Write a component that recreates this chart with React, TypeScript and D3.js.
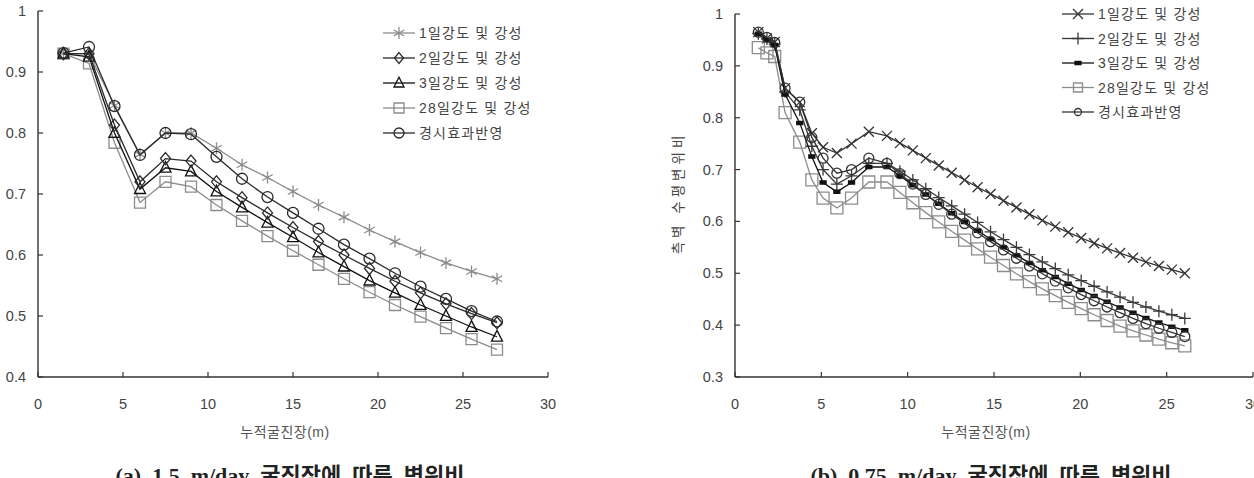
import React from "react";
import * as d3 from "d3";

// ---- chart (a) 1.5 m/day ----
const xA = [1.5, 3, 4.5, 6, 7.5, 9, 10.5, 12, 13.5, 15, 16.5, 18, 19.5, 21, 22.5, 24, 25.5, 27];
const a1 = [0.93, 0.93, 0.845, 0.765, 0.8, 0.8, 0.775, 0.748, 0.727, 0.704, 0.682, 0.662, 0.641, 0.622, 0.604, 0.587, 0.573, 0.561];
const a2 = [0.93, 0.93, 0.813, 0.72, 0.758, 0.754, 0.72, 0.694, 0.669, 0.645, 0.622, 0.6, 0.578, 0.557, 0.538, 0.52, 0.504, 0.489];
const a3 = [0.93, 0.925, 0.8, 0.708, 0.743, 0.737, 0.704, 0.678, 0.653, 0.629, 0.604, 0.581, 0.558, 0.538, 0.518, 0.5, 0.482, 0.466];
const a28 = [0.93, 0.914, 0.784, 0.686, 0.72, 0.712, 0.682, 0.656, 0.631, 0.607, 0.584, 0.561, 0.539, 0.518, 0.499, 0.48, 0.462, 0.445];
const aAge = [0.931, 0.941, 0.844, 0.764, 0.8, 0.798, 0.761, 0.725, 0.695, 0.669, 0.643, 0.617, 0.594, 0.57, 0.548, 0.528, 0.508, 0.491];

// ---- chart (b) 0.75 m/day ----
const xB = [1.35, 1.85, 2.3, 2.9, 3.75, 4.45, 5.1, 5.9, 6.75, 7.75, 8.8, 9.55, 10.3, 11.05, 11.8, 12.55, 13.3, 14.05, 14.8, 15.55, 16.3, 17.05, 17.8, 18.55, 19.3, 20.05, 20.8, 21.55, 22.3, 23.05, 23.8, 24.55, 25.3, 26.05];
const b1 = [0.965, 0.953, 0.946, 0.857, 0.83, 0.77, 0.743, 0.732, 0.75, 0.773, 0.765, 0.751, 0.737, 0.722, 0.708, 0.694, 0.68, 0.666, 0.653, 0.64, 0.627, 0.614, 0.602, 0.59, 0.579, 0.568, 0.558, 0.548, 0.539, 0.53, 0.522, 0.514, 0.507, 0.5];
const b2 = [0.962, 0.952, 0.942, 0.85, 0.815, 0.745, 0.7, 0.672, 0.688, 0.712, 0.712, 0.697, 0.68, 0.663, 0.646, 0.63, 0.614, 0.598, 0.58, 0.565, 0.55, 0.536, 0.522, 0.509, 0.497, 0.486, 0.475, 0.464, 0.454, 0.444, 0.435, 0.427, 0.42, 0.413];
const b3 = [0.962, 0.95, 0.94, 0.845, 0.79, 0.725, 0.675, 0.657, 0.675, 0.705, 0.705, 0.688, 0.67, 0.652, 0.634, 0.616, 0.599, 0.582, 0.566, 0.55, 0.535, 0.52, 0.506, 0.493, 0.48, 0.468, 0.456, 0.445, 0.434, 0.424, 0.414, 0.405, 0.397, 0.39];
const b28 = [0.935, 0.925, 0.918, 0.81, 0.753, 0.68, 0.645, 0.626, 0.645, 0.676, 0.676, 0.656, 0.636, 0.617, 0.599, 0.581, 0.564, 0.547, 0.531, 0.515, 0.499, 0.484, 0.47, 0.457, 0.444, 0.432, 0.42, 0.409, 0.398, 0.389, 0.381, 0.373, 0.366, 0.36];
const bAge = [0.965, 0.955, 0.945, 0.857, 0.83, 0.762, 0.722, 0.693, 0.7, 0.722, 0.712, 0.692, 0.672, 0.652, 0.633, 0.614, 0.596, 0.578, 0.561, 0.545, 0.529, 0.514, 0.499, 0.485, 0.472, 0.459, 0.447, 0.435, 0.424, 0.413, 0.403, 0.394, 0.386, 0.378];

const names = ["1일강도 및 강성", "2일강도 및 강성", "3일강도 및 강성", "28일강도 및 강성", "경시효과반영"];
const xTicks = [0, 5, 10, 15, 20, 25, 30];
const yTicksA = [0.4, 0.5, 0.6, 0.7, 0.8, 0.9, 1];
const yTicksB = [0.3, 0.4, 0.5, 0.6, 0.7, 0.8, 0.9, 1];

const KR = "'Liberation Sans', 'Noto Sans CJK KR', sans-serif";
const SERIF = "'Liberation Serif', 'Noto Sans CJK KR', serif";
const GRAY = "#8c8c8c";
const DARK = "#2a2a2a";

// marker path centred at 0,0
function markerPath(type: string, r: number) {
  switch (type) {
    case "circle":
      return `M${-r},0a${r},${r} 0 1,0 ${2 * r},0a${r},${r} 0 1,0 ${-2 * r},0Z`;
    case "square":
      return `M${-r},${-r}h${2 * r}v${2 * r}h${-2 * r}Z`;
    case "triangle":
      return `M0,${-r * 1.15}L${r},${r * 0.8}L${-r},${r * 0.8}Z`;
    case "diamond":
      return `M0,${-r * 1.2}L${r},0L0,${r * 1.2}L${-r},0Z`;
    case "asterisk":
      return `M0,${-r}V${r}M${-r * 0.87},${-r * 0.5}L${r * 0.87},${r * 0.5}M${-r * 0.87},${r * 0.5}L${r * 0.87},${-r * 0.5}`;
    case "x":
      return `M${-r},${-r}L${r},${r}M${-r},${r}L${r},${-r}`;
    case "plus":
      return `M${-r},0H${r}M0,${-r}V${r}`;
    case "dash":
      return `M${-r},-1.6h${2 * r}v3.2h${-2 * r}Z`;
  }
  return "";
}

type Series = { name: string; ys: number[]; color: string; marker: string; r: number; lr: number; fill?: string; w: number };

function Chart(props: {
  xs: number[];
  series: Series[];
  order: number[];
  xRange: [number, number];
  yDomain: [number, number];
  yRange: [number, number];
  yTicks: number[];
  legendX: number;
  legendY: number;
  legendStep: number;
  yTitle?: string;
  yTitleX?: number;
  yTitleY?: number;
  caption: string;
}) {
  const x = d3.scaleLinear().domain([0, 30]).range(props.xRange);
  const y = d3.scaleLinear().domain(props.yDomain).range(props.yRange);
  const line = d3
    .line<number>()
    .x((_, i) => x(props.xs[i]))
    .y((d) => y(d));
  const x0 = props.xRange[0];
  const yb = props.yRange[0];
  const cx = (props.xRange[0] + props.xRange[1]) / 2;
  return (
    <g>
      {/* axes */}
      <line x1={x0} x2={x0} y1={props.yRange[1]} y2={yb} stroke="#333" strokeWidth={1.4} />
      <line x1={x0} x2={props.xRange[1]} y1={yb} y2={yb} stroke="#333" strokeWidth={1.4} />
      {props.yTicks.map((t) => (
        <g key={"y" + t}>
          <line x1={x0} x2={x0 + 5} y1={y(t)} y2={y(t)} stroke="#333" strokeWidth={1.2} />
          <text x={x0 - 12} y={y(t) + 5} textAnchor="end" fontSize={14.5} fill="#444" fontFamily={KR}>
            {String(t)}
          </text>
        </g>
      ))}
      {xTicks.map((t) => (
        <g key={"x" + t}>
          <line x1={x(t)} x2={x(t)} y1={yb} y2={yb - 5} stroke="#333" strokeWidth={1.2} />
          <text x={x(t)} y={yb + 32} textAnchor="middle" fontSize={14.5} fill="#444" fontFamily={KR}>
            {String(t)}
          </text>
        </g>
      ))}
      <text x={cx - 8} y={yb + 60} textAnchor="middle" fontSize={14} fill="#555" fontFamily={KR} letterSpacing={0.5}>
        누적굴진장(m)
      </text>
      {props.yTitle && (
        <text
          transform={`translate(${props.yTitleX},${props.yTitleY}) rotate(-90)`}
          textAnchor="middle"
          fontSize={13.5}
          fill="#444"
          fontFamily={KR}
          letterSpacing={4}
        >
          {props.yTitle}
        </text>
      )}
      {/* series */}
      {props.order.map((k) => {
        const s = props.series[k];
        return (
          <g key={s.name}>
            <path d={line(s.ys) || ""} fill="none" stroke={s.color} strokeWidth={s.w} />
            {s.ys.map((v, i) => (
              <path
                key={i}
                transform={`translate(${x(props.xs[i])},${y(v)})`}
                d={markerPath(s.marker, s.r)}
                fill={s.fill || "none"}
                stroke={s.color}
                strokeWidth={1.3}
              />
            ))}
          </g>
        );
      })}
      {/* legend */}
      {props.series.map((s, i) => {
        const ly = props.legendY + i * props.legendStep;
        return (
          <g key={"lg" + i}>
            <line x1={props.legendX} x2={props.legendX + 32} y1={ly} y2={ly} stroke={s.color} strokeWidth={s.w} />
            <path
              transform={`translate(${props.legendX + 16},${ly})`}
              d={markerPath(s.marker, s.lr)}
              fill={s.fill || "none"}
              stroke={s.color}
              strokeWidth={1.3}
            />
            <text x={props.legendX + 36} y={ly + 5} fontSize={14} fill="#444" fontFamily={KR} letterSpacing={1.2}>
              {s.name}
            </text>
          </g>
        );
      })}
      <text
        x={cx - 3}
        y={482.5}
        textAnchor="middle"
        fontSize={22}
        fontWeight="bold"
        fill="#222"
        fontFamily={SERIF}
        style={{ whiteSpace: "pre" }}
      >
        {props.caption}
      </text>
    </g>
  );
}

export default function App() {
  const seriesA: Series[] = [
    { name: names[0], ys: a1, color: GRAY, marker: "asterisk", r: 6, lr: 6, w: 1.3 },
    { name: names[1], ys: a2, color: DARK, marker: "diamond", r: 5, lr: 4.5, w: 1.3 },
    { name: names[2], ys: a3, color: "#111", marker: "triangle", r: 5.5, lr: 5, w: 1.3 },
    { name: names[3], ys: a28, color: GRAY, marker: "square", r: 5.5, lr: 5, w: 1.3 },
    { name: names[4], ys: aAge, color: DARK, marker: "circle", r: 5.5, lr: 5, w: 1.3 },
  ];
  const seriesB: Series[] = [
    { name: names[0], ys: b1, color: "#333", marker: "x", r: 5, lr: 5, w: 1.3 },
    { name: names[1], ys: b2, color: "#3a3a3a", marker: "plus", r: 6, lr: 6, w: 1.3 },
    { name: names[2], ys: b3, color: "#111", marker: "dash", r: 3, lr: 3, fill: "#111", w: 1.3 },
    { name: names[3], ys: b28, color: GRAY, marker: "square", r: 6, lr: 4.5, w: 1.3 },
    { name: names[4], ys: bAge, color: "#333", marker: "circle", r: 5, lr: 3.5, w: 1.3 },
  ];
  return (
    <svg
      width={1254}
      height={478}
      viewBox="0 0 1254 478"
      style={{ position: "absolute", left: 0, top: 0, background: "#fff", display: "block" }}
    >
      <rect width={1254} height={478} fill="#fff" />
      <Chart
        xs={xA}
        series={seriesA}
        order={[0, 3, 2, 1, 4]}
        xRange={[38, 548]}
        yDomain={[0.4, 1]}
        yRange={[377, 11]}
        yTicks={yTicksA}
        legendX={383}
        legendY={33}
        legendStep={25}
        caption="(a)  1.5  m/day  굴진장에  따른  변위비"
      />
      <Chart
        xs={xB}
        series={seriesB}
        order={[0, 3, 1, 2, 4]}
        xRange={[735, 1253]}
        yDomain={[0.3, 1]}
        yRange={[377, 14]}
        yTicks={yTicksB}
        legendX={1062}
        legendY={14}
        legendStep={24.5}
        yTitle="측벽 수평변위비"
        yTitleX={683}
        yTitleY={193}
        caption="(b)  0.75  m/day  굴진장에  따른  변위비"
      />
    </svg>
  );
}
